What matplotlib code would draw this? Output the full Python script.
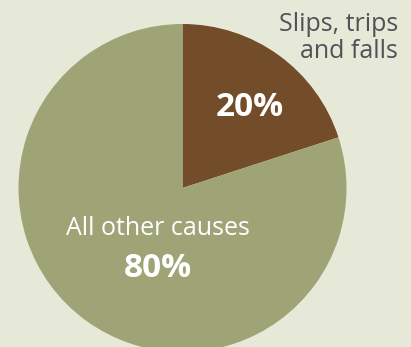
import matplotlib
matplotlib.use("Agg")
import matplotlib.pyplot as plt

# Share of workplace injuries by cause
categories = ["Slips, trips\nand falls", "All other causes"]
shares = [20, 80]
colors = ["#734c29", "#9ea475"]

W, H = 411, 347
fig = plt.figure(figsize=(W / 100, H / 100), dpi=100)
bg = "#e7e9d8"
fig.patch.set_facecolor(bg)
ax = fig.add_axes([0, 0, 1, 1])
ax.set_facecolor(bg)

ax.pie(shares, colors=colors, startangle=90, counterclock=False,
       center=(182.5, H - 188), radius=164, frame=True,
       wedgeprops=dict(linewidth=0))
ax.set_xlim(0, W)
ax.set_ylim(0, H)
ax.set_aspect("equal")
ax.axis("off")

font = "Open Sans"
gray = "#505257"

# Outside label for the small slice
ax.text(398, H - 31, "Slips, trips", ha="right", va="baseline",
        fontsize=18, color=gray, family=font)
ax.text(398, H - 58, "and falls", ha="right", va="baseline",
        fontsize=18, color=gray, family=font)

# Values inside the slices
ax.text(250, H - 116, f"{shares[0]}%", ha="center", va="baseline",
        fontsize=24, color="white", fontweight="bold", family=font)
ax.text(157.5, H - 235, categories[1], ha="center", va="baseline",
        fontsize=18, color="white", family=font)
ax.text(157.5, H - 277, f"{shares[1]}%", ha="center", va="baseline",
        fontsize=24, color="white", fontweight="bold", family=font)

fig.savefig("out.png", dpi=100, facecolor=bg)
